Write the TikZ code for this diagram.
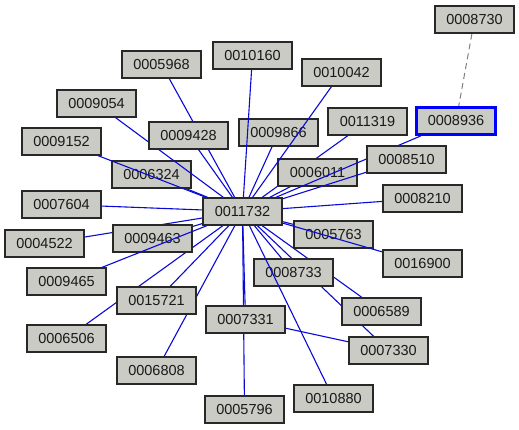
\documentclass[tikz,border=0pt]{standalone}
\usepackage{fontspec}
\setmainfont{Liberation Sans}
\definecolor{nodefill}{RGB}{202,203,196}
\definecolor{nodeline}{RGB}{40,40,40}
\definecolor{edgeblue}{RGB}{10,10,215}
\definecolor{hiblue}{RGB}{0,0,255}
\definecolor{dashgray}{RGB}{128,128,128}
\pgfdeclarelayer{edgesunder}
\pgfdeclarelayer{nodeslow}
\pgfdeclarelayer{edgesover}
\pgfsetlayers{edgesunder,nodeslow,edgesover,main}
\tikzset{
  idbox/.style={draw=nodeline, line width=1.3pt, fill=nodefill, rectangle,
    minimum width=79pt, minimum height=27pt, inner sep=0pt,
    font=\fontsize{14.5}{16}\selectfont, text=black!90},
  hibox/.style={idbox, draw=hiblue, line width=3pt},
  link/.style={draw=edgeblue, line width=1.1pt},
  dashlink/.style={draw=dashgray, line width=1pt, dashed, dash pattern=on 6pt off 4pt}
}
\begin{document}
\begin{tikzpicture}[x=1pt,y=-1pt]
\useasboundingbox (0,0) rectangle (519,429);
% nodes drawn beneath some edges
\begin{pgfonlayer}{nodeslow}
\node[idbox] (n6324) at (151.5,174.5) {0006324};
\node[idbox] (n9463) at (152.5,238.5) {0009463};
\node[idbox] (n9866) at (278.5,132.5) {0009866};
\node[idbox] (n6011) at (317.5,172.5) {0006011};
\node[idbox] (n5763) at (333.5,234.5) {0005763};
\node[idbox] (n8733) at (293.5,272.5) {0008733};
\end{pgfonlayer}
% nodes on top
\node[idbox] (n8730) at (474.5,19.5) {0008730};
\node[idbox] (n10160) at (252.5,55.5) {0010160};
\node[idbox] (n5968) at (161.5,64.5) {0005968};
\node[idbox] (n10042) at (341.5,72.5) {0010042};
\node[idbox] (n9054) at (96.5,103.5) {0009054};
\node[idbox] (n11319) at (367.5,121.5) {0011319};
\node[hibox] (n8936) at (456,121) {0008936};
\node[idbox] (n9428) at (188.5,135.5) {0009428};
\node[idbox] (n9152) at (61.5,141.5) {0009152};
\node[idbox] (n8510) at (406.5,159.5) {0008510};
\node[idbox] (n8210) at (422.5,198.5) {0008210};
\node[idbox] (n7604) at (61.5,204.5) {0007604};
\node[idbox] (c) at (242.5,211.5) {0011732};
\node[idbox] (n4522) at (44.5,243.5) {0004522};
\node[idbox] (n16900) at (422.5,263.5) {0016900};
\node[idbox] (n9465) at (66.5,281.5) {0009465};
\node[idbox] (n15721) at (156.5,300.5) {0015721};
\node[idbox] (n6589) at (381.5,311.5) {0006589};
\node[idbox] (n7331) at (245.5,319.5) {0007331};
\node[idbox] (n6506) at (66.5,338.5) {0006506};
\node[idbox] (n7330) at (388.5,350.5) {0007330};
\node[idbox] (n6808) at (156.5,370.5) {0006808};
\node[idbox] (n10880) at (333.5,398.5) {0010880};
\node[idbox] (n5796) at (244.5,409.5) {0005796};
% edges beneath all nodes
\begin{pgfonlayer}{edgesunder}
\foreach \n in {n5968,n9428,n9866,n6324,n7604,n11319,n6011,n8210,n4522,n9463,
  n15721,n6506,n6808,n7331,n5796,n5763,n8733,n6589,n7330}
  \draw[link] (c) -- (\n);
\draw[link] (n7331) -- (n7330);
\draw[dashlink] (n8730) -- (n8936);
\end{pgfonlayer}
% edges over the lower nodes
\begin{pgfonlayer}{edgesover}
\foreach \n in {n9152,n9054,n9465,n10160,n10042,n8936,n8510,n16900,n10880}
  \draw[link] (c) -- (\n);
\end{pgfonlayer}
\end{tikzpicture}
\end{document}
